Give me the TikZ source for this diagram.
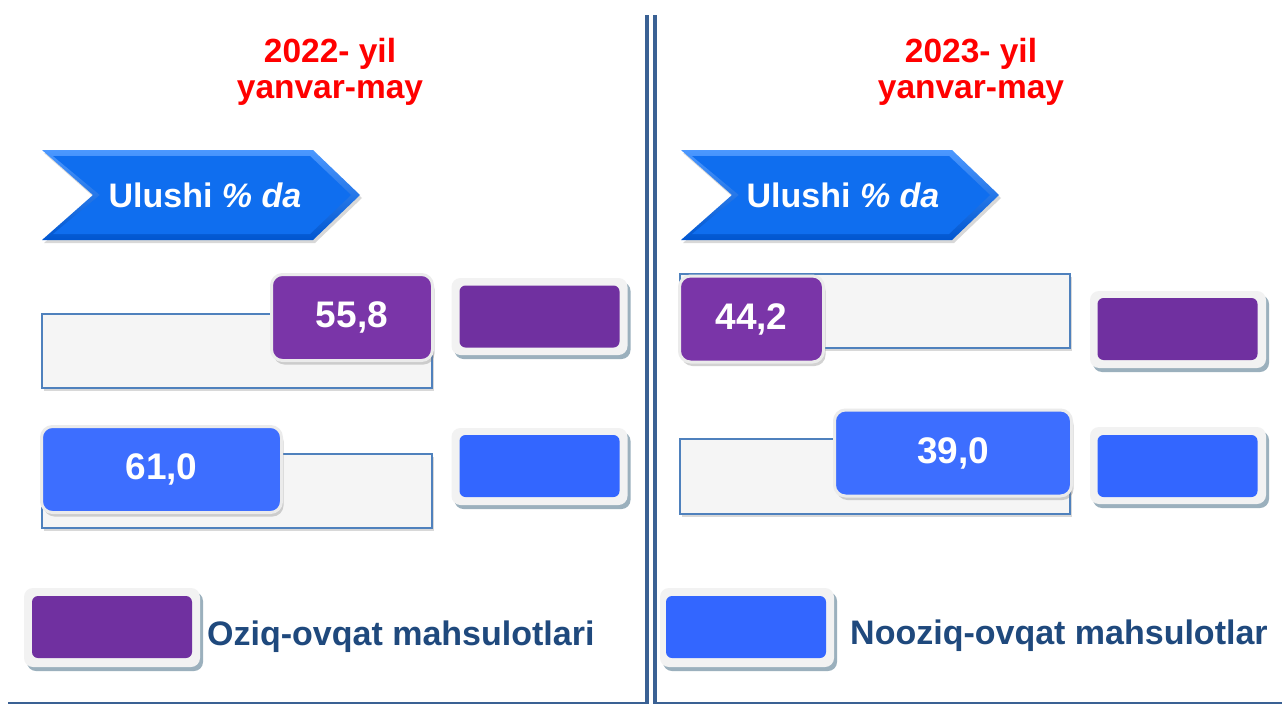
\documentclass[tikz,border=0pt]{standalone}
\usepackage{fontspec}
\setmainfont{Liberation Sans}
\usetikzlibrary{shadows}
\definecolor{sepcol}{HTML}{3A6194}
\definecolor{titlered}{HTML}{FF0000}
\definecolor{legtextcol}{HTML}{1F497D}
\definecolor{barborder}{HTML}{4F81BD}
\definecolor{barfill}{HTML}{F5F5F5}
\definecolor{valpurple}{HTML}{7A35A8}
\definecolor{valblue}{HTML}{3D6EFF}
\definecolor{legpurple}{HTML}{7030A0}
\definecolor{legblue}{HTML}{3366FF}
\definecolor{framecol}{HTML}{F2F2F2}
\definecolor{frameshadow}{HTML}{9BB0BD}
\definecolor{arrowmain}{HTML}{0F6EEF}
\definecolor{arrowlight}{HTML}{4C98FF}
\definecolor{arrowdark}{HTML}{0056D0}
\begin{document}
\begin{tikzpicture}[x=1pt,y=-1pt,
  barbox/.style={rectangle, draw=barborder, line width=1.3pt, fill=barfill, inner sep=0pt,
    minimum width=390pt, minimum height=74pt,
    drop shadow={shadow xshift=1.5pt, shadow yshift=-2.5pt, opacity=0.3}},
  valbox/.style={rectangle, rounded corners=11pt, draw=white!92!black, line width=3pt, inner sep=0pt,
    minimum height=86pt, text=white, font=\fontsize{37}{44}\selectfont\bfseries,
    drop shadow={shadow xshift=2pt, shadow yshift=-4pt, opacity=0.35}},
  purplebox/.style={valbox, fill=valpurple},
  bluebox/.style={valbox, fill=valblue},
  legframe/.style={rectangle, rounded corners=9pt, fill=framecol, inner sep=0pt,
    minimum width=176pt, minimum height=77pt,
    drop shadow={shadow xshift=3pt, shadow yshift=-4pt, opacity=1, fill=frameshadow}},
  leginner/.style={rectangle, rounded corners=6pt, inner sep=0pt, minimum width=160pt, minimum height=62pt},
  titletext/.style={text=titlered, font=\fontsize{33.5}{40}\selectfont\bfseries, inner sep=0pt},
  arrowtext/.style={text=white, font=\fontsize{34}{40}\selectfont\bfseries, inner sep=0pt},
  legendtext/.style={text=legtextcol, font=\fontsize{34}{40}\selectfont\bfseries, inner sep=0pt},
  seprule/.style={draw=sepcol, line width=4pt},
  baserule/.style={draw=sepcol, line width=2pt}
]
\useasboundingbox (0,0) rectangle (1282,704);
\fill[white] (0,0) rectangle (1282,704);

% separators
\coordinate (s1t) at (646.5,15);
\coordinate (s1b) at (646.5,704);
\coordinate (s2t) at (654.5,15);
\coordinate (s2b) at (654.5,704);
\draw[seprule] (s1t) -- (s1b);
\draw[seprule] (s2t) -- (s2b);
\coordinate (b1l) at (8,702.5);
\coordinate (b1r) at (645,702.5);
\coordinate (b2l) at (655,702.5);
\coordinate (b2r) at (1282,702.5);
\draw[baserule] (b1l) -- (b1r);
\draw[baserule] (b2l) -- (b2r);

% titles
\node[titletext, anchor=base] (t1a) at (330,62) {2022- yil};
\node[titletext, anchor=base] (t1b) at (330,98) {yanvar-may};
\node[titletext, anchor=base] (t2a) at (971,62) {2023- yil};
\node[titletext, anchor=base] (t2b) at (971,98) {yanvar-may};

% arrows
\foreach \dx in {0, 639}{
  \begin{scope}[xshift=\dx pt]
  \path[top color=arrowlight, bottom color=arrowdark,
        drop shadow={shadow xshift=2pt, shadow yshift=-3pt, opacity=0.3}]
    (42,150) -- (313,150) -- (360,195) -- (313,240) -- (42,240) -- (93,195) -- cycle;
  \fill[arrowmain] (53,156) -- (310,156) -- (351,195) -- (310,234) -- (53,234) -- (100,195) -- cycle;
  \end{scope}
}
\node[arrowtext] (ua) at (205,195) {Ulushi \textit{\% da}};
\node[arrowtext] (ub) at (843,195) {Ulushi \textit{\% da}};

% left panel
\node[barbox] (bar1) at (237,351) {};
\node[purplebox, minimum width=161pt] (v1) at (352,317.5) {55,8};
\node[legframe] (lf1) at (539.5,316.5) {};
\node[leginner, fill=legpurple] (li1) at (539.5,316.5) {};

\node[barbox] (bar2) at (237,491) {};
\node[bluebox, minimum width=240pt] (v2) at (161.5,469.5) {61,0};
\node[legframe] (lf2) at (539.5,466.5) {};
\node[leginner, fill=legblue] (li2) at (539.5,466) {};

% right panel
\node[barbox] (bar3) at (875,311) {};
\node[purplebox, minimum width=144pt] (v3) at (751.5,319) {44,2};
\node[legframe] (lf3) at (1178,329.5) {};
\node[leginner, fill=legpurple] (li3) at (1177.5,329) {};

\node[barbox, minimum height=75pt] (bar4) at (875,476.5) {};
\node[bluebox, minimum width=237pt] (v4) at (953,453) {39,0};
\node[legframe] (lf4) at (1178,465.5) {};
\node[leginner, fill=legblue] (li4) at (1177.5,466) {};

% bottom legend
\node[legframe, minimum height=79pt] (lp) at (112,627.5) {};
\node[leginner, fill=legpurple] (lpi) at (112,627) {};
\node[legendtext, anchor=base west] (lpt) at (207,645) {Oziq-ovqat mahsulotlari};

\node[legframe, minimum height=79pt, minimum width=174pt] (lb) at (747,627.5) {};
\node[leginner, fill=legblue] (lbi) at (746,627) {};
\node[legendtext, anchor=base west] (lbt) at (850,644) {Nooziq-ovqat mahsulotlar};
\end{tikzpicture}
\end{document}
